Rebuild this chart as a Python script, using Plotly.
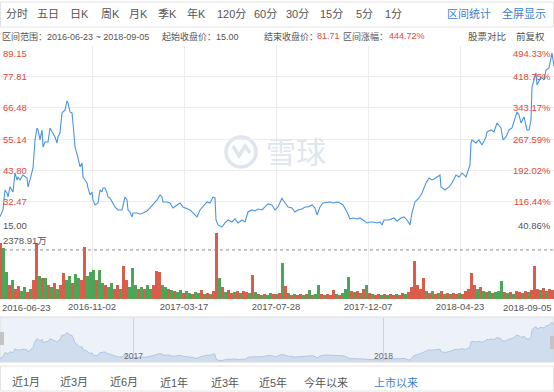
import plotly.graph_objects as go

W, H = 554, 392
FONT = "Liberation Sans, Noto Sans CJK SC, sans-serif"
GREY = "#555555"
RED = "#e4483a"
BLUE = "#3b7fd6"

# ---------------- data ----------------
RANGE_TEXT = "2016-06-23 ~ 2018-09-05"
START_CLOSE = "15.00"
END_CLOSE = "81.71"
GAIN_TEXT = "444.72%"

# trading-day index of each sampled close and the close price
PRICE_X = [0, 3, 5, 7, 8, 10, 13, 15, 17, 18, 20, 23, 27, 28, 30, 32, 33, 35, 37, 38,
           40, 42, 43, 45, 48, 50, 52, 53, 55, 57, 58, 60, 62, 63, 65, 67, 68, 70, 72, 73,
           75, 78, 80, 82, 83, 85, 87, 88, 90, 92, 93, 95, 98, 100, 102, 103, 105, 107, 108, 110,
           113, 115, 118, 122, 125, 127, 128, 130, 132, 133, 137, 140, 143, 147, 150, 153, 157, 160, 162, 163,
           167, 170, 173, 177, 180, 183, 187, 190, 193, 197, 200, 203, 207, 210, 213, 215, 216, 218, 222, 225,
           228, 232, 235, 238, 242, 245, 248, 252, 255, 258, 262, 265, 268, 272, 275, 278, 282, 283, 286, 288,
           292, 295, 298, 302, 305, 308, 312, 315, 317, 320, 323, 327, 330, 333, 337, 340, 343, 347, 350, 353,
           357, 360, 363, 367, 370, 373, 377, 380, 382, 384, 389, 394, 397, 401, 404, 407, 410, 412, 415, 419,
           422, 426, 429, 432, 434, 437, 440, 441, 445, 449, 452, 456, 459, 462, 466, 469, 470, 471, 472, 476,
           479, 482, 486, 487, 491, 494, 497, 501, 503, 506, 509, 512, 516, 517, 519, 521, 524, 527, 529, 531,
           532, 534, 536, 537, 539, 541, 544, 546, 549, 551, 552, 554]
PRICE = [27.00, 29.43, 36.69, 35.60, 34.15, 37.89, 35.97, 42.87, 40.33, 41.42, 40.33, 42.14, 41.05, 37.78, 40.33, 42.87, 44.69, 54.86, 59.22, 58.49,
         54.86, 58.49, 52.31, 54.13, 54.13, 59.22, 57.76, 57.40, 55.95, 53.77, 55.95, 57.40, 64.67, 65.03, 65.76, 69.03, 68.30, 65.03, 64.67, 61.03,
         52.31, 48.32, 45.05, 46.50, 41.42, 40.33, 39.24, 37.42, 34.88, 35.97, 33.06, 31.24, 31.97, 36.69, 35.97, 37.42, 37.42, 35.60, 34.15, 33.79,
         31.97, 30.52, 29.43, 29.43, 34.15, 33.06, 29.43, 28.70, 26.88, 28.34, 28.34, 27.98, 28.34, 29.06, 30.15, 31.24, 33.06, 34.88, 34.15, 32.33,
         32.33, 31.97, 30.15, 31.24, 31.97, 30.52, 29.79, 29.43, 28.34, 26.88, 29.43, 30.52, 32.33, 31.97, 34.15, 33.79, 25.79, 23.98, 23.25, 24.70,
         25.79, 25.07, 26.16, 24.70, 25.79, 25.07, 28.70, 29.43, 29.06, 29.79, 29.43, 30.52, 31.61, 31.24, 29.43, 30.52, 33.79, 33.06, 31.24, 30.52,
         30.15, 28.70, 29.43, 29.79, 30.52, 30.52, 31.24, 30.15, 27.61, 30.52, 31.97, 32.33, 32.33, 31.97, 32.33, 31.97, 31.24, 28.70, 26.16, 26.52,
         26.16, 26.52, 25.79, 24.70, 25.07, 25.07, 24.70, 25.07, 23.98, 25.79, 25.79, 26.52, 25.43, 26.52, 26.88, 25.79, 23.98, 28.34, 32.33, 33.79,
         35.60, 39.24, 41.05, 40.33, 40.69, 41.42, 42.14, 37.78, 36.69, 37.78, 39.24, 42.14, 41.42, 42.87, 41.42, 44.69, 45.78, 53.77, 54.86, 53.77,
         54.86, 53.04, 55.95, 57.76, 58.49, 57.76, 61.03, 59.22, 54.86, 55.95, 58.49, 59.22, 63.94, 65.03, 63.94, 61.03, 63.21, 58.49, 58.49, 62.12,
         74.11, 76.66, 79.20, 74.84, 76.66, 77.75, 76.66, 80.29, 81.02, 83.92, 86.47, 81.71]

# volume (万股), one bar per 3 trading days, and its direction (r = up, g = down)
VOL = [2700, 2450, 1300, 700, 900, 500, 650, 400, 600, 350,
       500, 900, 2700, 1100, 1000, 1000, 700, 600, 800, 500,
       700, 1250, 900, 1100, 800, 1200, 1000, 900, 2500, 1100,
       1300, 1400, 900, 1400, 800, 700, 600, 800, 500, 700,
       500, 1600, 900, 600, 1500, 700, 500, 600, 500, 700,
       500, 700, 1350, 1300, 700, 600, 500, 450, 400, 350,
       450, 300, 400, 300, 250, 350, 300, 450, 250, 300,
       250, 400, 3300, 1000, 600, 350, 450, 300, 350, 400,
       300, 400, 350, 300, 1150, 350, 250, 200, 250, 200,
       300, 250, 250, 300, 1750, 650, 300, 200, 250, 200,
       250, 200, 250, 450, 200, 250, 700, 250, 200, 250,
       200, 450, 250, 200, 300, 500, 1050, 400, 350, 400,
       300, 500, 700, 300, 250, 200, 250, 200, 250, 200,
       250, 200, 250, 200, 300, 250, 350, 600, 1850, 700,
       500, 1000, 400, 300, 400, 250, 300, 400, 250, 300,
       250, 300, 250, 300, 250, 400, 500, 1250, 700, 500,
       600, 400, 350, 400, 300, 350, 400, 850, 350, 300,
       350, 250, 400, 350, 300, 400, 350, 450, 1600, 500,
       450, 550, 400, 500, 450]
VOL_DIR = ("rggrgrrggr" "grrgrgrgrg" "rrggrggrrg" "ggrggrggrr" "grrgggrgrg"
           "grrrggrgrg" "grggrggrgr" "grrgrgrrgr" "grrgrgrgrg" "grgrgrgrgr"
           "rgrgrggrgr" "rrgrgggrgr" "grgrgrrgrg" "rrgrrgrrrr" "rrgrgrgrgr"
           "grrgrrrrrg" "rgrgrgggrg" "rgrrgrgrrr" "grgrr")
VOL_MARK = 2378.91
VOL_MARK_TEXT = "2378.91万"

PRICE_TICKS = [21.13, 32.47, 43.80, 55.14, 66.48, 77.81, 89.15]
PRICE_LABELS = ["15.00", "32.47", "43.80", "55.14", "66.48", "77.81", "89.15"]
PCT_LABELS = ["40.86%", "116.44%", "192.02%", "267.59%", "343.17%", "418.75%", "494.33%"]

DATE_TICKS = [92, 184, 276, 368, 460]
DATE_LABELS = ["2016-11-02", "2017-03-17", "2017-07-28", "2017-12-07", "2018-04-23"]
FIRST_DATE, LAST_DATE = "2016-06-23", "2018-09-05"
N_DAYS = 554
YEAR_TICKS = [133, 383]
YEAR_LABELS = ["2017", "2018"]

TOOLBAR = ["分时", "五日", "日K", "周K", "月K", "季K", "年K", "120分", "60分", "30分", "15分", "5分", "1分"]
TOOLBAR_RIGHT = ["区间统计", "全屏显示"]
PERIODS = ["近1月", "近3月", "近6月", "近1年", "近3年", "近5年", "今年以来", "上市以来"]


def px(x):
    return x / W


def py(y):
    return 1 - y / H


fig = go.Figure()

# price line
fig.add_trace(go.Scatter(x=PRICE_X, y=PRICE, mode="lines", xaxis="x", yaxis="y",
                         line=dict(color="#4a94e4", width=1.1), hoverinfo="skip"))

# volume bars
VOL_X = [3 * i for i in range(len(VOL))]
vcol = ["rgba(212,64,44,0.85)" if d == "r" else "rgba(46,150,58,0.85)" for d in VOL_DIR]
fig.add_trace(go.Bar(x=VOL_X, y=VOL, width=3, marker=dict(color=vcol, line=dict(width=0)),
                     xaxis="x", yaxis="y2", hoverinfo="skip"))

# navigator
fig.add_trace(go.Scatter(x=PRICE_X, y=PRICE, mode="lines", xaxis="x2", yaxis="y3",
                         fill="tozeroy", fillcolor="rgba(200,215,236,0.8)",
                         line=dict(color="#b3c7e2", width=1), hoverinfo="skip"))

price_dom = [py(232.8), py(45.6)]
vol_dom = [py(299), py(233)]
nav_dom = [py(362), py(318)]

fig.update_layout(
    width=W, height=H, margin=dict(l=0, r=0, t=0, b=0),
    paper_bgcolor="white", plot_bgcolor="rgba(0,0,0,0)",
    showlegend=False, bargap=0,
    font=dict(family=FONT, size=10, color=GREY),
    xaxis=dict(domain=[0, 1], range=[0, N_DAYS], anchor="y2",
               tickvals=DATE_TICKS, ticktext=DATE_LABELS, ticks="",
               showgrid=True, gridcolor="#ececec", gridwidth=1, zeroline=False,
               showline=False, tickfont=dict(size=9.5, color=GREY)),
    yaxis=dict(domain=price_dom, range=[PRICE_TICKS[0], PRICE_TICKS[-1]],
               tickvals=PRICE_TICKS, showticklabels=False, showgrid=True,
               gridcolor="#ececec", zeroline=False, ticks=""),
    yaxis2=dict(domain=vol_dom, range=[0, 3200], showgrid=False, showticklabels=False,
                zeroline=False, ticks=""),
    xaxis2=dict(domain=[0, 1], range=[0, N_DAYS], anchor="y3", tickvals=YEAR_TICKS,
                showticklabels=False, showgrid=True, gridcolor="#c9d6e8", zeroline=False, ticks=""),
    yaxis3=dict(domain=nav_dom, range=[21, 93], showgrid=False, showticklabels=False,
                zeroline=False, ticks=""),
)

shapes = []
# toolbar box
shapes.append(dict(type="rect", xref="paper", yref="paper", x0=px(0.5), x1=px(553.5),
                   y0=py(27), y1=py(2), line=dict(color="#e3e3e3", width=1), layer="below"))
# navigator background
shapes.append(dict(type="rect", xref="paper", yref="paper", x0=0, x1=1, y0=py(362), y1=py(317),
                   fillcolor="#edf2f9", line=dict(color="#dddddd", width=1), layer="below"))
# navigator handles
shapes.append(dict(type="rect", xref="paper", yref="paper", x0=px(0), x1=px(4), y0=py(345), y1=py(332),
                   fillcolor="#c4c4c4", line=dict(width=0)))
shapes.append(dict(type="rect", xref="paper", yref="paper", x0=px(550), x1=px(554), y0=py(349), y1=py(336),
                   fillcolor="#c4c4c4", line=dict(width=0)))
# bottom period box
shapes.append(dict(type="rect", xref="paper", yref="paper", x0=px(0.5), x1=px(553.5),
                   y0=py(391), y1=py(366), line=dict(color="#e3e3e3", width=1), layer="below"))
# volume reference dotted line
shapes.append(dict(type="line", xref="x", yref="y2", x0=4, x1=N_DAYS, y0=VOL_MARK, y1=VOL_MARK,
                   line=dict(color="#8a8a8a", width=1, dash="dot")))
# watermark logo
shapes.append(dict(type="circle", xref="paper", yref="paper", x0=px(226), x1=px(256),
                   y0=py(167), y1=py(137), line=dict(color="#dfe5ec", width=3.5), layer="below"))
pts = [(233, 146), (239, 156), (245, 146), (250, 153)]
path = "M " + " L ".join(f"{px(a):.4f},{py(b):.4f}" for a, b in pts)
shapes.append(dict(type="path", xref="paper", yref="paper", path=path,
                   line=dict(color="#dfe5ec", width=3.5), layer="below"))
fig.update_layout(shapes=shapes)

ann = []


def text(x, y, s, size=10, color=GREY, xanchor="left", yanchor="middle", xref="paper", yref="paper"):
    ann.append(dict(x=x, y=y, xref=xref, yref=yref, text=s, showarrow=False,
                    xanchor=xanchor, yanchor=yanchor, font=dict(size=size, color=color, family=FONT)))


# toolbar
tool_x = [17, 48, 79, 110, 138, 167, 196, 231, 265, 297, 331, 364, 393]
for t, x in zip(TOOLBAR, tool_x):
    text(px(x), py(14), t, size=11, xanchor="center")
for t, x in zip(TOOLBAR_RIGHT, [469, 524]):
    text(px(x), py(14), t, size=11, color=BLUE, xanchor="center")

# summary row
text(px(0), py(36), "区间范围：" + RANGE_TEXT, size=9)
text(px(160), py(36), "起始收盘价：" + START_CLOSE, size=9)
text(px(262), py(36), "结束收盘价：", size=9)
text(px(315), py(36), END_CLOSE, size=9, color=RED)
text(px(341), py(36), "区间涨幅：", size=9)
text(px(387), py(36), GAIN_TEXT, size=9, color=RED)
text(px(508), py(36), "股票对比", size=9.5, xanchor="right")
text(px(547), py(36), "前复权", size=9.5, xanchor="right")

# price axis labels (left) and change labels (right)
n = len(PRICE_TICKS)
for i, (v, lab, pct) in enumerate(zip(PRICE_TICKS, PRICE_LABELS, PCT_LABELS)):
    ya = "bottom" if i == 0 else ("top" if i == n - 1 else "middle")
    col = GREY if i == 0 else RED
    text(px(1), v, lab, size=9.5, color=col, yanchor=ya, yref="y")
    text(px(553), v, pct, size=9.5, color=col, xanchor="right", yanchor=ya, yref="y")

# volume label
text(px(1), py(240), VOL_MARK_TEXT, size=9.5)

# edge date labels
text(0, py(307), FIRST_DATE, size=9.5, xref="x")
text(N_DAYS, py(307), LAST_DATE, size=9.5, xanchor="right", xref="x")

# navigator year labels
for v, lab in zip(YEAR_TICKS, YEAR_LABELS):
    text(v, py(356), lab, size=8.5, color="#666666", xanchor="center", xref="x2")

# watermark text
text(px(296), py(152), "雪球", size=30, color="#e0e6ed", xanchor="center")

# period buttons
per_x = [26, 74, 124, 174, 225, 273, 326, 396]
for i, (t, x) in enumerate(zip(PERIODS, per_x)):
    text(px(x), py(382), t, size=11, color=BLUE if i == len(PERIODS) - 1 else GREY, xanchor="center")

fig.update_layout(annotations=ann)
fig.write_html("out.html")
